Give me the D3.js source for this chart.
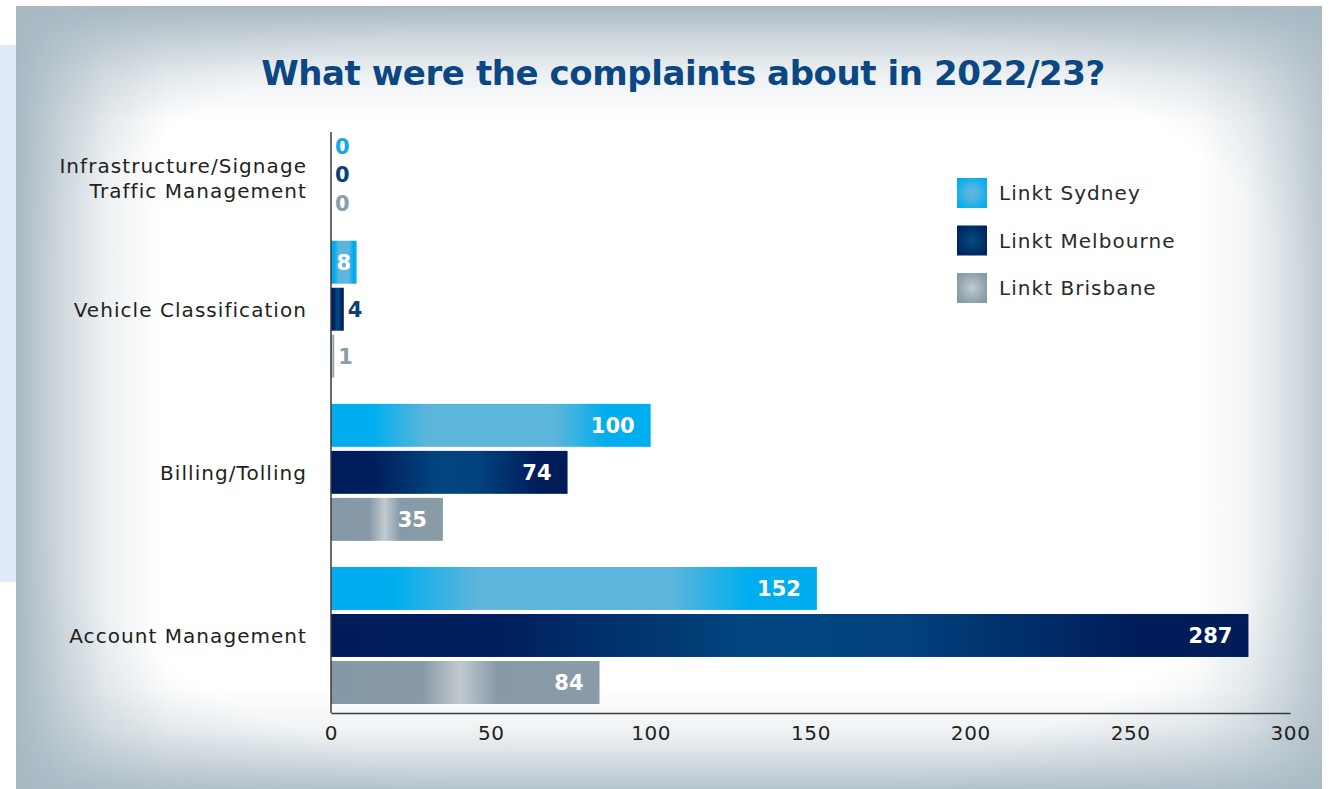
<!DOCTYPE html>
<html>
<head>
<meta charset="utf-8">
<script src="https://cdn.jsdelivr.net/npm/d3@7"></script>
<style>
  body { margin: 0; background: #ffffff; }
  svg text { font-family: "DejaVu Sans", sans-serif; }
</style>
</head>
<body>
<div class="chart"></div>
<script>
let svgWidth = 1329;
let svgHeight = 789;

// data
let categories = ["Infrastructure/Signage|Traffic Management", "Vehicle Classification", "Billing/Tolling", "Account Management"];
let seriesNames = ["Linkt Sydney", "Linkt Melbourne", "Linkt Brisbane"];
let sydney = [0, 8, 100, 152];
let melbourne = [0, 4, 74, 287];
let brisbane = [0, 1, 35, 84];
let xTicks = [0, 50, 100, 150, 200, 250, 300];

let seriesValues = [sydney, melbourne, brisbane];
let outsideColors = ["#12a7e6", "#0b3f79", "#8a9daa"];

let margin = { top: 132, right: 39, bottom: 76, left: 331 };

let svg = d3.select(".chart")
    .append("svg")
    .attr("width", svgWidth)
    .attr("height", svgHeight);

let defs = svg.append("defs");

// edge vignette gradients for the panel
let edgeColor = "#a8b9c3";
let edges = [
    { id: "edgeL", x1: 0, y1: 0, x2: 1, y2: 0, top: 1 },
    { id: "edgeR", x1: 1, y1: 0, x2: 0, y2: 0, top: 0.75 },
    { id: "edgeT", x1: 0, y1: 0, x2: 0, y2: 1, top: 1 },
    { id: "edgeB", x1: 0, y1: 1, x2: 0, y2: 0, top: 0.85 }
];
edges.forEach(e => {
    let g = defs.append("linearGradient").attr("id", e.id)
        .attr("x1", e.x1).attr("y1", e.y1).attr("x2", e.x2).attr("y2", e.y2);
    [[0, 1], [0.3, 0.55], [0.6, 0.2], [1, 0]].forEach(s =>
        g.append("stop").attr("offset", s[0]).attr("stop-color", edgeColor).attr("stop-opacity", s[1] * e.top));
});
let corner = defs.append("radialGradient").attr("id", "cornerGrad")
    .attr("cx", 0.5).attr("cy", 0.5).attr("r", 0.71);
[[0, 0], [0.72, 0], [0.86, 0.3], [1, 0.55]].forEach(s =>
    corner.append("stop").attr("offset", s[0]).attr("stop-color", edgeColor).attr("stop-opacity", s[1]));

// bar gradients (horizontal)
let barStops = [
    [[0, "#00aeef"], [0.13, "#00aeef"], [0.3, "#5cb5da"], [0.7, "#5cb5da"], [0.86, "#00aeef"], [1, "#00aeef"]],
    [[0, "#001d5a"], [0.18, "#001f5c"], [0.45, "#01457f"], [0.62, "#01427e"], [0.88, "#001d5a"], [1, "#001d5a"]],
    [[0, "#8598a5"], [0.34, "#889aa7"], [0.48, "#c1c9cf"], [0.62, "#889aa7"], [1, "#8a9ca8"]]
];
let swatchStops = [
    [[0, "#5fb6db"], [0.35, "#4fb4df"], [1, "#00aeef"]],
    [[0, "#024a82"], [0.4, "#013d74"], [1, "#00205d"]],
    [[0, "#c4ccd2"], [0.4, "#a6b4bd"], [1, "#8699a6"]]
];
barStops.forEach((stops, i) => {
    let g = defs.append("linearGradient").attr("id", "bar" + i)
        .attr("x1", 0).attr("x2", 1).attr("y1", 0).attr("y2", 0);
    stops.forEach(s => g.append("stop").attr("offset", s[0]).attr("stop-color", s[1]));
});
swatchStops.forEach((stops, i) => {
    let g = defs.append("radialGradient").attr("id", "sw" + i).attr("r", 0.6);
    stops.forEach(s => g.append("stop").attr("offset", s[0]).attr("stop-color", s[1]));
});

// background panels
svg.append("rect")
    .attr("x", 0).attr("y", 45).attr("width", 20).attr("height", 537)
    .attr("fill", "#deebf6");
let panel = { x: 16, y: 6, w: 1306, h: 783 };
svg.append("rect")
    .attr("x", panel.x).attr("y", panel.y).attr("width", panel.w).attr("height", panel.h)
    .attr("fill", "#ffffff");
svg.append("rect").attr("x", panel.x).attr("y", panel.y).attr("width", 150).attr("height", panel.h).attr("fill", "url(#edgeL)");
svg.append("rect").attr("x", panel.x + panel.w - 125).attr("y", panel.y).attr("width", 125).attr("height", panel.h).attr("fill", "url(#edgeR)");
svg.append("rect").attr("x", panel.x).attr("y", panel.y).attr("width", panel.w).attr("height", 115).attr("fill", "url(#edgeT)");
svg.append("rect").attr("x", panel.x).attr("y", panel.y + panel.h - 100).attr("width", panel.w).attr("height", 100).attr("fill", "url(#edgeB)");
svg.append("rect")
    .attr("x", panel.x).attr("y", panel.y).attr("width", panel.w).attr("height", panel.h)
    .attr("fill", "url(#cornerGrad)");

// title
let title = svg.append("text")
    .attr("x", 683).attr("y", 85)
    .attr("text-anchor", "middle")
    .attr("font-size", 34)
    .attr("font-weight", "bold")
    .attr("fill", "#0a4783")
    .text("What were the complaints about in 2022/23?");
let tw = title.node().getComputedTextLength();
let nChars = title.text().length;
title.attr("letter-spacing", (844 - tw) / (nChars - 1));

// scales
let x = d3.scaleLinear()
    .domain([0, 300])
    .range([margin.left, svgWidth - margin.right]);

// rows: groups with only zeros get a thinner row
let zeroRow = 0.6, fullRow = 1, groupGap = 0.47;
let layout = [];
let cursor = 0;
categories.forEach((c, gi) => {
    let maxV = d3.max(seriesValues, s => s[gi]);
    let rh = maxV === 0 ? zeroRow : fullRow;
    let rows = seriesValues.map((s, si) => {
        let r = { group: gi, series: si, value: s[gi], start: cursor, size: rh };
        cursor += rh;
        return r;
    });
    layout.push({ name: c, start: rows[0].start, end: cursor, rows: rows });
    cursor += groupGap;
});
let totalUnits = cursor - groupGap;

let y = d3.scaleLinear()
    .domain([0, totalUnits])
    .range([margin.top, 706]);

let allRows = layout.flatMap(g => g.rows);
let inset = 0.043;

let chartGroup = svg.append("g");

chartGroup.selectAll("rect.bar")
    .data(allRows.filter(r => r.value > 0))
    .enter()
    .append("rect")
    .attr("class", "bar")
    .attr("x", x(0))
    .attr("y", d => y(d.start + d.size * inset))
    .attr("width", d => x(d.value) - x(0))
    .attr("height", d => y(d.start + d.size * (1 - inset)) - y(d.start + d.size * inset))
    .attr("fill", d => `url(#bar${d.series})`);

// value labels
let labels = chartGroup.selectAll("text.val")
    .data(allRows)
    .enter()
    .append("text")
    .attr("class", "val")
    .attr("font-size", 21)
    .attr("font-weight", "bold")
    .attr("dominant-baseline", "central")
    .attr("y", d => y(d.start + d.size / 2) + 1)
    .text(d => d.value);

labels.each(function (d) {
    let t = d3.select(this);
    let w = this.getComputedTextLength();
    let barW = x(d.value) - x(0);
    if (barW >= w + 8) {
        let pad = Math.min(16, (barW - w) / 2);
        t.attr("x", x(d.value) - pad).attr("text-anchor", "end").attr("fill", "#ffffff");
    } else {
        t.attr("x", x(d.value) + 4).attr("text-anchor", "start").attr("fill", outsideColors[d.series]);
    }
});

// category labels
layout.forEach(g => {
    let lines = g.name.split("|");
    let cy = y((g.start + g.end) / 2) + (lines.length > 1 ? 4 : 1);
    let t = chartGroup.append("text")
        .attr("text-anchor", "end")
        .attr("font-size", 20)
        .attr("letter-spacing", 1.05)
        .attr("fill", "#231f20");
    lines.forEach((ln, i) => {
        t.append("tspan")
            .attr("x", x(0) - 24)
            .attr("y", cy + (i - (lines.length - 1) / 2) * 25)
            .attr("dy", "0.35em")
            .text(ln);
    });
});

// axes
let bottomAxis = d3.axisBottom(x)
    .tickValues(xTicks)
    .tickSize(0)
    .tickSizeOuter(0)
    .tickPadding(13);

let xAxis = chartGroup.append("g")
    .attr("transform", `translate(0, 713)`)
    .call(bottomAxis);
xAxis.select(".domain").attr("stroke", "#3a3a3a").attr("stroke-width", 1.5);
xAxis.selectAll("text")
    .attr("font-size", 20)
    .attr("letter-spacing", 0.6)
    .attr("font-family", "DejaVu Sans, sans-serif")
    .attr("fill", "#231f20");

chartGroup.append("line")
    .attr("x1", x(0)).attr("x2", x(0))
    .attr("y1", margin.top).attr("y2", 713)
    .attr("stroke", "#3a3a3a")
    .attr("stroke-width", 1.5);

// legend
let legend = svg.append("g").attr("transform", "translate(957, 178)");
seriesNames.forEach((name, i) => {
    let row = legend.append("g").attr("transform", `translate(0, ${i * 47.5})`);
    row.append("rect")
        .attr("width", 30).attr("height", 30)
        .attr("fill", `url(#sw${i})`);
    row.append("text")
        .attr("x", 42).attr("y", 15)
        .attr("dy", "0.35em")
        .attr("font-size", 20)
        .attr("letter-spacing", 1.05)
        .attr("fill", "#2a2a2a")
        .text(name);
});
</script>
</body>
</html>
